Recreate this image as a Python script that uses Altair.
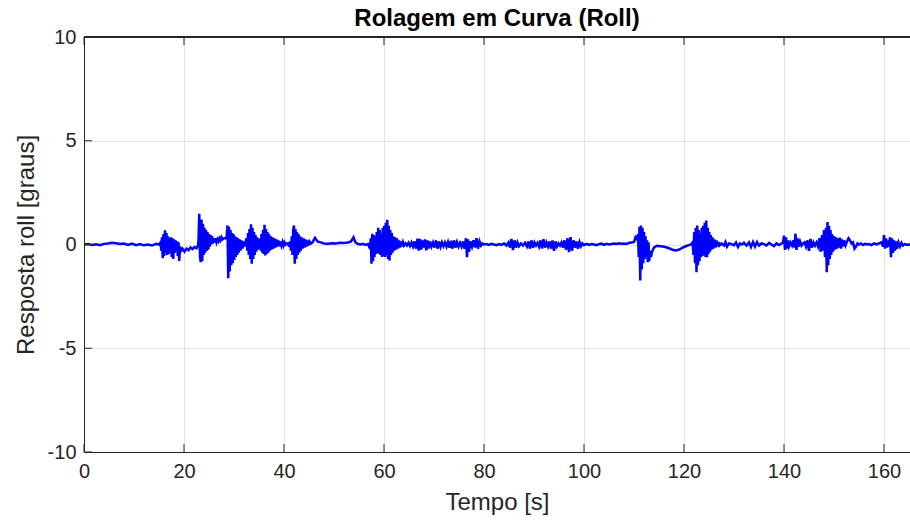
import altair as alt
import pandas as pd

# Roll response [deg] over time [s], written as (time, roll) pairs per stretch of the run
calm_start = [(0.0, 0.0), (0.8, 0.02), (1.6, -0.02), (2.4, 0.01), (3.2, -0.03), (4.0, 0.03),
              (4.8, 0.05), (5.6, 0.08), (6.4, 0.06), (7.2, 0.03), (8.0, 0.05), (8.8, -0.02),
              (9.6, 0.04), (10.4, -0.03), (11.2, 0.02), (12.0, -0.04), (12.8, 0.0), (13.6, -0.05),
              (14.4, 0.03), (15.0, 0.0)]

curve_1 = [(15.3, 0.1), (15.45, -0.3), (15.6, 0.35), (15.75, -0.66), (15.9, 0.5), (16.05, -0.55),
           (16.2, 0.68), (16.35, -0.4), (16.5, 0.55), (16.65, -0.5), (16.8, 0.4), (16.95, -0.45),
           (17.1, 0.3), (17.25, -0.35), (17.4, 0.35), (17.55, -0.6), (17.7, 0.3), (17.85, -0.7),
           (18.0, 0.25), (18.15, -0.4), (18.3, 0.2), (18.45, -0.3), (18.6, 0.15), (18.75, -0.55),
           (18.9, 0.1), (19.05, -0.79), (19.2, -0.1), (19.4, -0.3)]

drift_1 = [(19.7, -0.2), (20.1, -0.35), (20.5, -0.2), (20.9, -0.28), (21.3, -0.15), (21.7, -0.22),
           (22.1, -0.12), (22.5, -0.18), (22.8, -0.05)]

curve_2 = [(22.9, 0.2), (23.05, 1.48), (23.2, -0.6), (23.35, -0.85), (23.5, 1.2), (23.65, -0.8),
           (23.8, 1.0), (23.95, -0.5), (24.1, 0.8), (24.25, -0.4), (24.4, 0.7), (24.55, -0.3),
           (24.7, 0.6), (24.85, -0.25), (25.0, 0.5), (25.15, -0.1), (25.3, 0.45), (25.45, 0.0),
           (25.6, 0.4), (25.75, 0.05), (25.9, 0.3), (26.1, 0.1), (26.3, 0.3), (26.5, 0.1),
           (26.7, 0.25), (26.9, 0.15), (27.1, 0.3), (27.3, 0.2), (27.5, 0.35), (27.7, 0.25),
           (28.0, 0.3)]

curve_3 = [(28.5, 0.3), (28.7, 0.92), (28.85, -1.63), (29.0, 0.85), (29.15, -1.3), (29.3, 0.7),
           (29.45, -1.0), (29.6, 0.55), (29.75, -0.9), (29.9, 0.5), (30.05, -0.75), (30.2, 0.4),
           (30.35, -0.6), (30.5, 0.35), (30.65, -0.5), (30.8, 0.3), (30.95, -0.4), (31.1, 0.25),
           (31.3, -0.3), (31.5, 0.2), (31.7, -0.2), (31.9, 0.15), (32.1, -0.1), (32.3, 0.1)]

curve_4 = [(32.5, 0.3), (32.65, -0.3), (32.8, 0.55), (32.95, -0.5), (33.1, 0.75), (33.25, -0.7),
           (33.4, 0.97), (33.55, -0.93), (33.7, 0.8), (33.85, -0.7), (34.0, 0.6), (34.15, -0.5),
           (34.3, 0.45), (34.45, -0.35), (34.6, 0.35), (34.75, -0.25), (34.9, 0.3), (35.05, -0.2),
           (35.2, 0.25)]

curve_5 = [(35.35, -0.3), (35.5, 0.5), (35.65, -0.4), (35.8, 0.7), (35.95, -0.45), (36.1, 0.95),
           (36.25, -0.53), (36.4, 0.75), (36.55, -0.45), (36.7, 0.6), (36.85, -0.4), (37.0, 0.5),
           (37.15, -0.3), (37.3, 0.4), (37.5, -0.25), (37.7, 0.35), (37.9, -0.2), (38.1, 0.3),
           (38.3, -0.15), (38.5, 0.25), (38.7, -0.1), (38.9, 0.2), (39.1, -0.08), (39.3, 0.15),
           (39.5, -0.05), (39.7, 0.12), (39.9, -0.05), (40.1, 0.1), (40.3, 0.0), (40.5, 0.05)]

curve_6 = [(40.8, 0.05), (41.0, -0.1), (41.2, 0.15), (41.4, -0.3), (41.55, 0.4), (41.7, -0.5),
           (41.85, 0.7), (42.0, 0.92), (42.15, -0.93), (42.3, 0.75), (42.45, -0.7), (42.6, 0.6),
           (42.75, -0.5), (42.9, 0.5), (43.05, -0.4), (43.2, 0.4), (43.35, -0.3), (43.5, 0.35),
           (43.7, -0.2), (43.9, 0.3), (44.1, -0.15), (44.3, 0.25), (44.5, -0.1), (44.7, 0.2),
           (44.9, -0.05), (45.1, 0.15), (45.4, 0.05)]

calm_mid = [(45.7, 0.1), (46.2, 0.32), (46.7, 0.15), (47.3, 0.1), (48.0, 0.05), (48.8, 0.04),
            (49.6, 0.06), (50.4, 0.05), (51.2, 0.08), (52.0, 0.07), (52.8, 0.1), (53.4, 0.15),
            (53.9, 0.35), (54.3, 0.1), (54.8, 0.02), (55.3, 0.0), (55.8, 0.03), (56.3, -0.02),
            (56.8, 0.02)]

curve_7 = [(57.2, -0.2), (57.35, 0.3), (57.5, -0.93), (57.65, 0.52), (57.8, -0.8), (57.95, 0.45),
           (58.1, -0.6), (58.25, 0.4), (58.4, -0.45), (58.55, 0.6), (58.7, -0.4), (58.85, 0.8),
           (59.0, -0.45), (59.15, 0.7), (59.3, -0.5), (59.45, 0.5), (59.6, -0.6), (59.75, 0.8),
           (59.9, -0.55), (60.05, 0.9), (60.2, -0.6), (60.35, 1.05), (60.5, -0.5), (60.65, 1.19),
           (60.8, -0.7), (60.95, 0.9), (61.1, -0.77), (61.25, 0.7), (61.4, -0.5), (61.55, 0.55),
           (61.7, -0.4), (61.85, 0.4), (62.0, -0.3), (62.2, 0.35), (62.4, -0.25), (62.6, 0.3),
           (62.8, -0.2), (63.0, 0.2), (63.2, -0.15), (63.4, 0.15), (63.6, -0.1), (63.8, 0.1),
           (64.0, -0.05)]

ripple_1 = [(64.3, 0.05), (64.6, -0.05), (64.9, 0.08), (65.2, -0.08), (65.5, 0.1), (65.8, -0.1),
            (66.1, 0.15), (66.4, -0.2), (66.7, 0.28), (66.95, -0.3), (67.2, 0.27), (67.45, -0.25),
            (67.7, 0.2), (67.95, -0.15), (68.2, 0.25), (68.45, -0.28), (68.7, 0.2), (68.95, -0.2),
            (69.2, 0.15), (69.5, -0.1), (69.8, 0.1), (70.1, -0.15), (70.4, 0.2), (70.7, -0.2),
            (71.0, 0.15), (71.3, -0.12), (71.6, 0.1), (71.9, -0.08), (72.2, 0.1), (72.5, -0.1),
            (72.8, 0.12), (73.1, -0.15), (73.4, 0.18), (73.7, -0.2), (74.0, 0.2), (74.3, -0.15),
            (74.6, 0.12), (74.9, -0.1), (75.2, 0.08), (75.5, -0.1), (75.8, 0.15), (76.1, -0.2),
            (76.4, 0.3), (76.6, -0.61), (76.8, 0.25), (77.0, -0.35), (77.3, 0.15), (77.6, -0.1),
            (77.9, 0.2), (78.2, -0.15), (78.5, 0.3), (78.8, -0.2), (79.1, 0.15), (79.4, -0.05),
            (79.7, 0.05), (80.0, 0.0)]

ripple_2 = [(80.5, 0.02), (81.0, -0.02), (81.5, 0.03), (82.0, 0.0), (82.5, -0.03), (83.0, 0.02),
            (83.5, -0.02), (84.0, 0.05), (84.5, -0.05), (84.9, 0.1), (85.2, -0.15), (85.5, 0.27),
            (85.8, -0.27), (86.1, 0.2), (86.4, -0.15), (86.7, 0.1), (87.0, -0.08), (87.4, 0.05),
            (87.8, -0.05), (88.2, 0.08), (88.6, -0.1), (88.9, 0.15), (89.2, -0.2), (89.5, 0.2),
            (89.8, -0.15), (90.1, 0.1), (90.4, -0.05), (90.7, 0.08), (91.0, -0.1), (91.3, 0.2),
            (91.6, -0.2), (91.9, 0.25), (92.2, -0.15), (92.5, 0.1), (92.8, -0.1), (93.1, 0.15),
            (93.4, -0.2), (93.7, 0.2), (94.0, -0.3), (94.3, 0.15), (94.6, -0.1), (94.9, 0.05),
            (95.2, -0.05), (95.5, 0.1), (95.8, -0.15), (96.1, 0.2), (96.4, -0.25), (96.7, 0.3),
            (97.0, -0.37), (97.3, 0.35), (97.6, -0.3), (97.9, 0.2), (98.2, -0.15), (98.5, 0.15),
            (98.8, -0.2), (99.1, 0.12), (99.4, -0.08), (99.7, 0.05), (100.0, -0.03), (100.5, 0.03),
            (101.0, -0.02), (101.5, 0.02), (102.0, 0.0), (102.5, -0.03), (103.0, 0.02), (103.5, 0.04),
            (104.0, -0.02), (104.5, 0.03), (105.0, 0.0), (105.5, 0.02), (106.0, 0.05), (106.5, 0.03),
            (107.0, 0.06), (107.5, 0.04), (108.0, 0.05), (108.5, 0.03), (109.0, 0.08), (109.5, 0.1),
            (110.0, 0.12)]

curve_8 = [(110.3, 0.35), (110.6, 0.25), (110.8, 0.5), (110.95, -0.6), (111.1, 0.85), (111.25, -1.74),
           (111.4, 0.92), (111.55, -1.2), (111.7, 0.8), (111.85, -0.9), (112.0, 0.6), (112.15, -0.7),
           (112.3, 0.4), (112.45, -0.6), (112.6, 0.2), (112.75, -0.85), (112.9, 0.1), (113.05, -0.8),
           (113.2, -0.3), (113.4, -0.6), (113.6, -0.35), (113.8, -0.25), (114.0, -0.15), (114.3, -0.1)]

drift_2 = [(114.6, -0.06), (115.2, -0.08), (115.8, -0.1), (116.4, -0.13), (117.0, -0.18),
           (117.6, -0.24), (118.2, -0.29), (118.8, -0.27), (119.4, -0.2), (120.0, -0.12),
           (120.6, -0.06), (121.1, -0.02)]

curve_9 = [(121.4, 0.0), (121.7, 0.1), (121.9, -0.5), (122.05, 0.6), (122.2, -0.9), (122.35, 0.8),
           (122.5, -1.34), (122.65, 0.92), (122.8, -1.0), (122.95, 0.7), (123.1, -0.8), (123.25, 0.55),
           (123.4, -0.6), (123.55, 0.8), (123.7, -0.55), (123.85, 0.9), (124.0, -0.5), (124.15, 1.05),
           (124.3, -0.6), (124.45, 1.16), (124.6, -0.61), (124.75, 0.8), (124.9, -0.45), (125.05, 0.6),
           (125.2, -0.35), (125.35, 0.45), (125.5, -0.25), (125.7, 0.35), (125.9, -0.2), (126.1, 0.25),
           (126.3, -0.15), (126.5, 0.2), (126.7, -0.1), (126.9, 0.12), (127.1, -0.05)]

ripple_3 = [(127.5, 0.05), (128.0, -0.05), (128.3, 0.12), (128.6, -0.1), (129.0, 0.05), (129.5, 0.02),
            (130.0, -0.03), (130.4, 0.1), (130.8, -0.12), (131.2, 0.05), (131.6, 0.0), (132.0, 0.08),
            (132.5, -0.05), (133.0, 0.1), (133.4, -0.12), (133.8, 0.12), (134.2, -0.1), (134.6, 0.12),
            (135.0, -0.05), (135.5, 0.05), (136.0, 0.02), (136.5, -0.05), (137.0, 0.08), (137.5, 0.0),
            (138.0, -0.08), (138.5, 0.05), (139.0, -0.03), (139.5, 0.05)]

curve_10 = [(139.8, 0.1), (140.0, 0.43), (140.2, -0.26), (140.4, 0.35), (140.6, -0.2), (140.8, 0.2),
            (141.0, -0.1), (141.3, 0.1), (141.6, -0.05), (141.9, 0.2), (142.1, -0.15), (142.3, 0.52),
            (142.5, -0.26), (142.7, 0.3), (142.9, -0.1), (143.2, 0.15), (143.5, -0.05), (143.8, 0.05),
            (144.1, 0.1), (144.4, -0.1), (144.7, 0.2), (145.0, -0.3), (145.3, 0.27), (145.6, -0.15),
            (145.9, 0.1), (146.2, -0.05), (146.5, 0.1), (146.8, -0.1), (147.1, 0.3), (147.35, -0.35),
            (147.6, 0.45), (147.8, -0.3), (148.0, 0.7), (148.2, -0.6), (148.4, 0.8), (148.55, -1.34),
            (148.7, 1.08), (148.85, -1.0), (149.0, 0.9), (149.15, -0.7), (149.3, 0.7), (149.45, -0.5),
            (149.6, 0.5), (149.8, -0.35), (150.0, 0.4), (150.2, -0.25), (150.4, 0.35), (150.6, -0.2),
            (150.8, 0.3), (151.0, -0.15), (151.2, 0.33), (151.4, -0.2), (151.6, 0.25), (151.8, -0.1),
            (152.0, 0.2), (152.3, -0.05), (152.6, 0.15), (152.9, 0.3), (153.2, 0.2), (153.5, 0.05),
            (153.8, 0.1), (154.1, -0.2), (154.4, -0.1), (154.7, 0.05), (155.0, 0.0), (155.4, 0.05),
            (155.8, -0.02), (156.2, 0.03), (156.6, 0.0), (157.0, 0.02), (157.5, -0.03), (158.0, 0.05),
            (158.5, 0.0), (159.0, 0.05), (159.5, 0.1), (159.8, -0.1), (160.0, 0.45), (160.2, -0.2),
            (160.4, 0.3), (160.6, -0.15), (160.8, 0.2), (161.0, -0.1), (161.2, 0.35), (161.4, -0.61),
            (161.6, 0.3), (161.8, -0.4), (162.0, 0.2), (162.2, -0.3), (162.4, 0.15), (162.6, -0.2),
            (162.9, 0.1), (163.2, -0.1), (163.5, 0.08), (163.8, -0.05), (164.1, 0.02), (164.4, 0.0),
            (164.7, -0.02), (165.0, 0.0), (165.3, 0.0)]

segments = [calm_start, curve_1, drift_1, curve_2, curve_3, curve_4, curve_5, curve_6, calm_mid,
            curve_7, ripple_1, ripple_2, curve_8, drift_2, curve_9, ripple_3, curve_10]

x_ticks = [0, 20, 40, 60, 80, 100, 120, 140, 160]
y_ticks = [-10, -5, 0, 5, 10]

rows = [pt for seg in segments for pt in seg]
df = pd.DataFrame(rows, columns=["tempo", "roll"])
xdf = pd.DataFrame({"tick": x_ticks})
ydf = pd.DataFrame({"tick": y_ticks})

W, H = 826, 415
FONT = "Liberation Sans"
AX = "#262626"
GRID = "#e3e3e3"
TICK_LEN = 8
# plain hyphen for negative labels
LABEL_EXPR = "toString(datum.value)"

x_scale = alt.Scale(domain=[0, 165.2], nice=False, zero=False)
y_scale = alt.Scale(domain=[-10, 10], nice=False, zero=False)

line = alt.Chart(df).mark_line(color="#0000ff", strokeWidth=2.5, clip=True).encode(
    x=alt.X("tempo:Q", scale=x_scale,
            axis=alt.Axis(values=x_ticks, title="Tempo [s]", grid=True, gridColor=GRID,
                          tickSize=0, labelPadding=9, labelFontSize=20, labelColor=AX,
                          labelFont=FONT, titleFont=FONT, titleFontSize=24,
                          titleFontWeight="normal", titleColor=AX, titlePadding=9,
                          domainColor=AX, domainWidth=1, labelFlush=False,
                          labelExpr=LABEL_EXPR)),
    y=alt.Y("roll:Q", scale=y_scale,
            axis=alt.Axis(values=y_ticks, title="Resposta roll [graus]", grid=True,
                          gridColor=GRID, tickSize=0, labelPadding=8, labelFontSize=20,
                          labelColor=AX, labelFont=FONT, titleFont=FONT, titleFontSize=24,
                          titleFontWeight="normal", titleColor=AX, titlePadding=9,
                          domainColor=AX, domainWidth=1, labelFlush=False,
                          labelExpr=LABEL_EXPR)),
)

# Inward ticks on bottom, top and left edges, plus the top frame line
bottom_ticks = alt.Chart(xdf).mark_rule(color=AX, strokeWidth=1).encode(
    x=alt.X("tick:Q", scale=x_scale), y=alt.value(H), y2=alt.value(H - TICK_LEN))
top_ticks = alt.Chart(xdf).mark_rule(color=AX, strokeWidth=1).encode(
    x=alt.X("tick:Q", scale=x_scale), y=alt.value(0), y2=alt.value(TICK_LEN))
left_ticks = alt.Chart(ydf).mark_rule(color=AX, strokeWidth=1).encode(
    y=alt.Y("tick:Q", scale=y_scale), x=alt.value(0), x2=alt.value(TICK_LEN))
top_line = alt.Chart(xdf).mark_rule(color=AX, strokeWidth=1).encode(
    x=alt.value(0), x2=alt.value(W), y=alt.value(0))

chart = alt.layer(line, bottom_ticks, top_ticks, left_ticks, top_line).properties(
    width=W, height=H,
    title=alt.TitleParams("Rolagem em Curva (Roll)", font=FONT, fontSize=24,
                          fontWeight="bold", color="#000000", anchor="middle", offset=-4),
    autosize=alt.AutoSizeParams(type="none"),
    padding={"left": 84, "top": 37, "right": 0, "bottom": 72},
).configure_view(stroke=None).configure(background="white")

chart.save("out.html", embed_options={"renderer": "svg", "actions": False})
